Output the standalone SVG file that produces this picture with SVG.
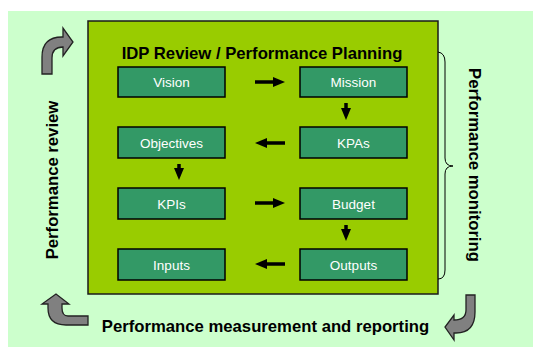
<svg xmlns="http://www.w3.org/2000/svg" width="533" height="347" viewBox="0 0 533 347">
<style>
.box{fill:#339966;stroke:#000;stroke-width:1.5}
.bt{font-family:"Liberation Sans",Arial,sans-serif;font-size:13.5px;fill:#fff;text-anchor:middle}
.lbl{font-family:"Liberation Sans",Arial,sans-serif;font-size:16.7px;font-weight:bold;fill:#000;text-anchor:middle}
.con{stroke:#000;stroke-width:3.5;fill:none;marker-end:url(#ah)}
.curv{fill:#808080;stroke:#222;stroke-width:1.3;stroke-linejoin:miter}
</style>
<defs>
<marker id="ah" markerUnits="userSpaceOnUse" markerWidth="12" markerHeight="10" refX="1" refY="5" orient="auto">
<path d="M0,0 L12,5 L0,10 Z" fill="#000"/>
</marker>
</defs>
<rect x="8" y="11" width="525" height="336" fill="#ccffcc"/>
<g id="frame">
<rect x="88" y="21" width="350" height="273" fill="#99cc00" stroke="#1a1a1a" stroke-width="1.5"/>
<text class="lbl" x="262" y="59">IDP Review / Performance Planning</text>
</g>
<g id="vision"><rect class="box" x="118" y="67" width="107" height="30"/><text class="bt" x="171.5" y="87">Vision</text></g>
<g id="mission"><rect class="box" x="300" y="67" width="107" height="30"/><text class="bt" x="353.5" y="87">Mission</text></g>
<g id="objectives"><rect class="box" x="118" y="127" width="107" height="31"/><text class="bt" x="171.5" y="147.5">Objectives</text></g>
<g id="kpas"><rect class="box" x="300" y="127" width="107" height="31"/><text class="bt" x="353.5" y="147.5">KPAs</text></g>
<g id="kpis"><rect class="box" x="118" y="188" width="107" height="31"/><text class="bt" x="171.5" y="208.5">KPIs</text></g>
<g id="budget"><rect class="box" x="300" y="188" width="107" height="31"/><text class="bt" x="353.5" y="208.5">Budget</text></g>
<g id="inputs"><rect class="box" x="118" y="249" width="107" height="31"/><text class="bt" x="171.5" y="269.5">Inputs</text></g>
<g id="outputs"><rect class="box" x="300" y="249" width="107" height="31"/><text class="bt" x="353.5" y="269.5">Outputs</text></g>
<g id="connectors">
<line class="con" x1="255" y1="82" x2="274" y2="82"/>
<line class="con" x1="346" y1="103" x2="346" y2="109"/>
<line class="con" x1="285" y1="143" x2="266" y2="143"/>
<line class="con" x1="179" y1="164" x2="179" y2="169"/>
<line class="con" x1="255" y1="203" x2="274" y2="203"/>
<line class="con" x1="346" y1="225" x2="346" y2="230"/>
<line class="con" x1="285" y1="264" x2="266" y2="264"/>
</g>
<g id="cycle">
<path class="curv" d="M42,74 L42,57 Q42,37 62,37 L63,37 L63,28 L73,42 L63,56 L63,47 Q52,47 52,58 L52,74 Z"/>
<path class="curv" d="M48,304 L48,308 Q48,325 66,325 L88,325 L88,316 L68,316 Q62,316 62,308 L62,304 L69,304 L56,294 L42,304 Z"/>
<path class="curv" d="M466,295 L475,295 L475,312 Q475,333 456,333 L454,333 L454,340 L445,327 L454,315 L454,320 Q466,320 466,310 Z"/>
<path d="M438,52 Q445,53 445,62 L445,158 Q445,166 453,166 Q445,166 445,174 L445,270 Q445,279 438,279" fill="none" stroke="#000" stroke-width="1"/>
</g>
<g id="labels">
<text class="lbl" transform="translate(57.5,180) rotate(-90)">Performance review</text>
<text class="lbl" transform="translate(468.5,165) rotate(90)">Performance monitoring</text>
<text class="lbl" x="265.5" y="331.5">Performance measurement and reporting</text>
</g>
</svg>
